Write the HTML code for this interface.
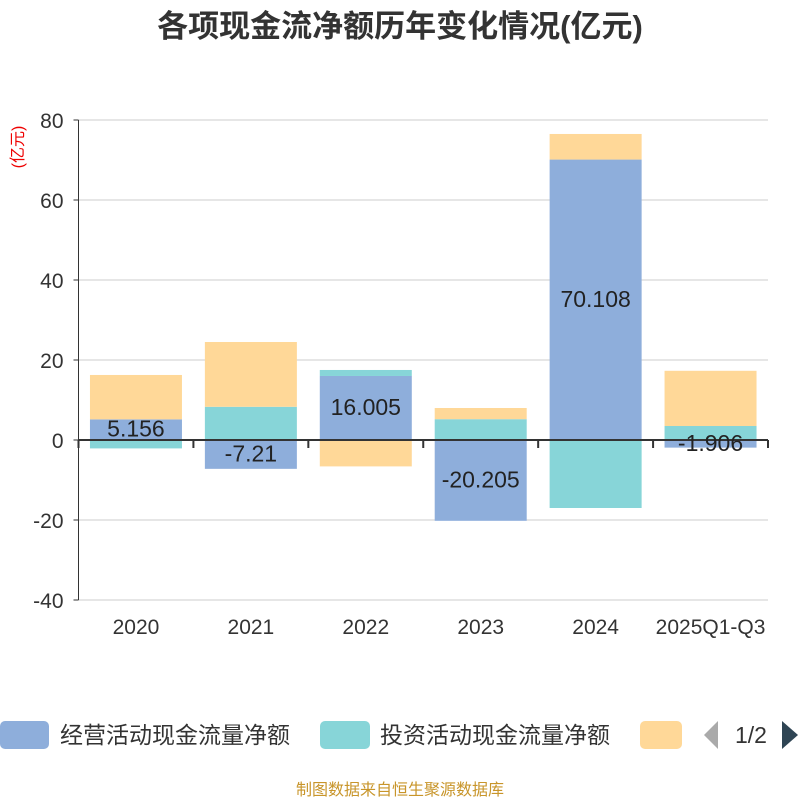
<!DOCTYPE html>
<html><head><meta charset="utf-8">
<style>
body{margin:0;background:#fff;}
svg{display:block;font-family:"Liberation Sans","Noto Sans CJK SC",sans-serif;}
</style></head>
<body>
<svg id="chart" width="800" height="800" viewBox="0 0 800 800" xmlns="http://www.w3.org/2000/svg">
<text x="400" y="37" text-anchor="middle" font-size="31" font-weight="bold" fill="#333">各项现金流净额历年变化情况(亿元)</text>
<text transform="translate(23,147) rotate(-90)" text-anchor="middle" font-size="16" fill="#e00">(亿元)</text>
<g id="grid"></g>
<g id="bars"></g>
<g id="axes"></g>
<g id="labels"></g>
<g>
<rect x="0" y="721" width="49" height="28" rx="5" fill="#8eaedb"/>
<text x="60" y="743" font-size="23" fill="#333">经营活动现金流量净额</text>
<rect x="320" y="721" width="50" height="28" rx="5" fill="#87d5d8"/>
<text x="380" y="743" font-size="23" fill="#333">投资活动现金流量净额</text>
<rect x="640" y="721" width="42" height="28" rx="5" fill="#ffd898"/>
<polygon points="718,721 718,749 704,735" fill="#aaa"/>
<text x="751" y="743" text-anchor="middle" font-size="23" fill="#333">1/2</text>
<polygon points="782,721 782,749 798,735" fill="#2f4554"/>
</g>
<text x="400" y="795" text-anchor="middle" font-size="16" fill="#c8952a">制图数据来自恒生聚源数据库</text>
</svg>
<script>
const categories=["2020","2021","2022","2023","2024","2025Q1-Q3"];
const operating=[5.156,-7.21,16.005,-20.205,70.108,-1.906];
const investing=[-2.1,8.3,1.5,5.2,-17.0,3.5];
const financing=[11.1,16.2,-6.6,2.8,6.4,13.8];
const yTicks=[-40,-20,0,20,40,60,80];
const colors=["#8eaedb","#87d5d8","#ffd898"];
const seriesNames=["operating","investing","financing"];
const NS="http://www.w3.org/2000/svg";
const x0=78.5,x1=768,yTop=120,yBot=600,yMin=-40,yMax=80;
const bandW=(x1-x0)/categories.length,barW=92;
function yScale(v){return yBot-(v-yMin)/(yMax-yMin)*(yBot-yTop);}
function xCenter(i){return x0+bandW*(i+0.5);}
function mk(tag,attrs,parent){const e=document.createElementNS(NS,tag);for(const k in attrs)e.setAttribute(k,attrs[k]);parent.appendChild(e);return e;}
const grid=document.getElementById('grid'),bars=document.getElementById('bars'),axes=document.getElementById('axes'),labels=document.getElementById('labels');
yTicks.forEach(t=>{
 const y=yScale(t);
 if(t!==0){const l=mk('line',{x1:x0,x2:x1,y1:y,y2:y,stroke:'#ccc','stroke-width':1},grid);
 
 }
 const tk=mk('line',{x1:x0-5,x2:x0,y1:y,y2:y,stroke:'#333'},axes);
 
 
 const tx=mk('text',{x:x0-15,y:y+8,'text-anchor':'end','font-size':21,fill:'#333'},axes);
 tx.textContent=t;
 
 
});
const series=[operating,investing,financing];
categories.forEach((c,i)=>{
 let pos=0,neg=0;
 series.forEach((s,k)=>{
  const v=s[i];let a,b;
  if(v>=0){a=pos;b=pos+v;pos=b;}else{a=neg;b=neg+v;neg=b;}
  const yA=yScale(Math.max(a,b)),yB=yScale(Math.min(a,b));
  const r=mk('rect',{x:xCenter(i)-barW/2,y:yA,width:barW,height:yB-yA,fill:colors[k]},bars);
  
  
 });
 const v=operating[i];
 const lt=mk('text',{x:xCenter(i),y:yScale(v/2)+7,'text-anchor':'middle','font-size':23,fill:'#222'},labels);
 lt.textContent=v;
 
 
 const xl=mk('text',{x:xCenter(i),y:634,'text-anchor':'middle','font-size':21,fill:'#333'},axes);
 xl.textContent=c;
 
 
});
for(let i=0;i<=categories.length;i++){
 const x=x0+bandW*i;
 const t=mk('line',{x1:x,x2:x,y1:yScale(0),y2:yScale(0)+8,stroke:'#333','stroke-width':2},axes);
 
 
}
const xa=mk('line',{x1:x0,x2:x1,y1:yScale(0),y2:yScale(0),stroke:'#333','stroke-width':2},axes);


const ya=mk('line',{x1:x0,x2:x0,y1:yTop,y2:yBot,stroke:'#333','stroke-width':1},axes);


</script>
</body></html>
